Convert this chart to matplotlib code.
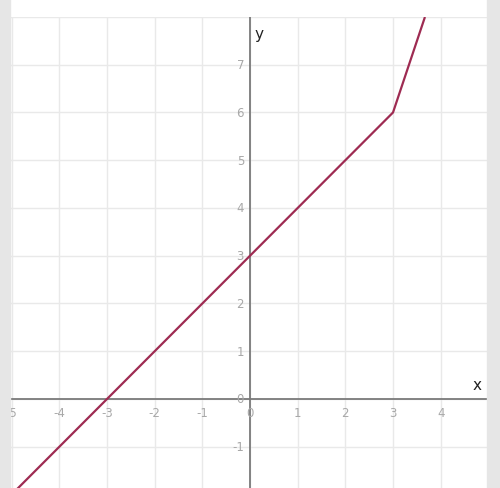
import matplotlib
matplotlib.use("Agg")
import matplotlib.pyplot as plt
import matplotlib.patches as mpatches

# piecewise line
LINE_X = [-5.0, 3.0, 3.67]
LINE_Y = [-2.0, 6.0, 8.0]

X_TICKS = [-5, -4, -3, -2, -1, 0, 1, 2, 3, 4]
Y_TICKS = [-1, 0, 1, 2, 3, 4, 5, 6, 7]

XLIM = (-5.035, 4.972)
YLIM = (-1.864, 8.0)

LINE_COLOR = "#9e2b52"
GRID_COLOR = "#e9e9e9"
AXIS_COLOR = "#7a7a7a"
LABEL_COLOR = "#a8a8a8"

fig = plt.figure(figsize=(5.0, 4.89), dpi=100, facecolor="white")

# gray side strips
fig.patches.append(mpatches.Rectangle((0, 0), 10 / 500, 1, transform=fig.transFigure,
                                      color="#e6e6e6", zorder=0))
fig.patches.append(mpatches.Rectangle((487 / 500, 0), 13 / 500, 1, transform=fig.transFigure,
                                      color="#e6e6e6", zorder=0))

ax = fig.add_axes([10 / 500, 0, 477 / 500, 471 / 489])
ax.set_xlim(*XLIM)
ax.set_ylim(*YLIM)
for s in ax.spines.values():
    s.set_visible(False)
ax.set_xticks([])
ax.set_yticks([])

# grid
for gx in X_TICKS:
    ax.axvline(gx, color=GRID_COLOR, lw=1.0, zorder=1)
for gy in Y_TICKS + [8]:
    ax.axhline(gy, color=GRID_COLOR, lw=1.0, zorder=1)

# axes through origin
ax.axhline(0, color=AXIS_COLOR, lw=1.3, zorder=2)
ax.axvline(0, color=AXIS_COLOR, lw=1.3, zorder=2)

px = 1 / 47.7  # roughly one pixel in data units
for t in X_TICKS:
    ax.text(t, -13 * px, str(t), ha="center", va="center",
            fontsize=8.5, color=LABEL_COLOR, clip_on=True, zorder=3)
for t in Y_TICKS:
    ax.text(-6 * px, t, str(t), ha="right", va="center",
            fontsize=8.5, color=LABEL_COLOR, clip_on=True, zorder=3)

ax.text(4.76, 0.3, "x", ha="center", va="center", fontsize=11, color="#222222", zorder=3)
ax.text(0.19, 7.66, "y", ha="center", va="center", fontsize=11, color="#222222", zorder=3)

ax.plot(LINE_X, LINE_Y, color=LINE_COLOR, lw=1.6, zorder=4, solid_capstyle="butt")

fig.savefig("out.png", dpi=100, facecolor="white")
